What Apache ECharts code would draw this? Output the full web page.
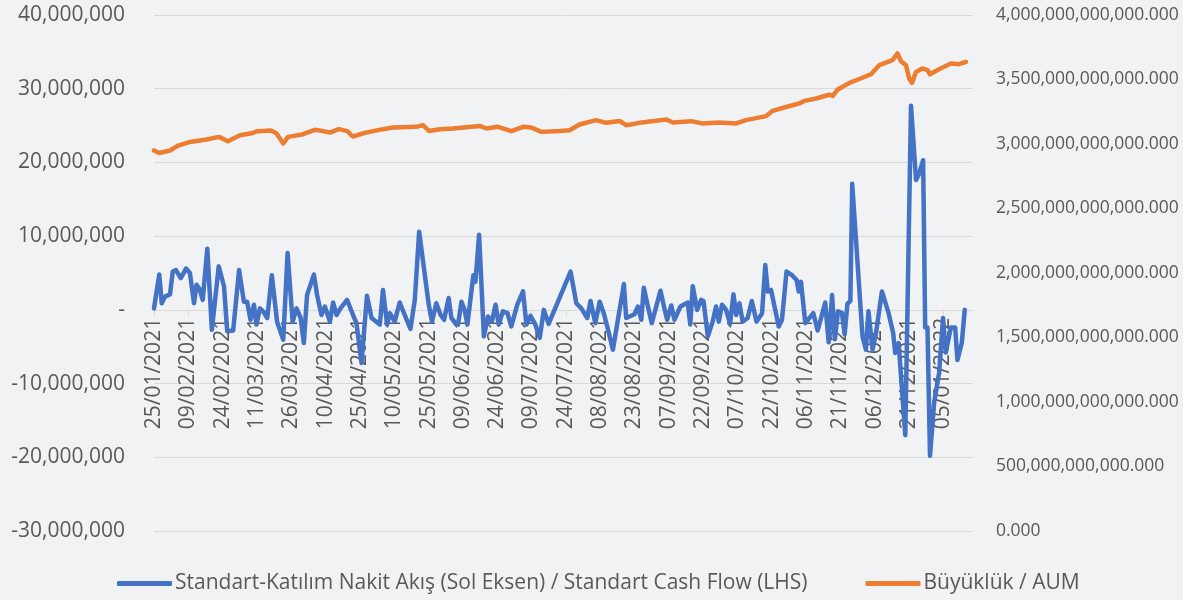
<!DOCTYPE html>
<html>
<head>
<meta charset="utf-8">
<script src="https://cdn.jsdelivr.net/npm/echarts@6/dist/echarts.min.js"></script>
<style>
  html, body { margin: 0; padding: 0; background: #f1f2f4; }
  #chart { width: 1183px; height: 600px; }
</style>
</head>
<body>
<div id="chart"></div>
<script>
// x positions are days since 25/01/2021
const xTickDates = ["25/01/2021", "09/02/2021", "24/02/2021", "11/03/2021", "26/03/2021", "10/04/2021",
  "25/04/2021", "10/05/2021", "25/05/2021", "09/06/2021", "24/06/2021", "09/07/2021", "24/07/2021",
  "08/08/2021", "23/08/2021", "07/09/2021", "22/09/2021", "07/10/2021", "22/10/2021", "06/11/2021",
  "21/11/2021", "06/12/2021", "21/12/2021", "05/01/2022"];

const seriesNames = ["Standart-Katılım Nakit Akış (Sol Eksen) / Standart Cash Flow (LHS)", "Büyüklük / AUM"];

// cash flow, millions
const flowDays = [
  0, 2.3, 3.4, 4.8, 7.0, 8.2, 9.6, 11.7, 14.0, 15.7,
  17.5, 18.6, 19.8, 21.3, 23.3, 25.3, 28.3, 30.6, 32.0, 34.6,
  37.2, 39.3, 40.7, 42.2, 43.7, 44.8, 46.3, 47.7, 49.5, 51.5,
  53.8, 56.5, 58.4, 60.6, 62.3, 64.1, 65.5, 66.9, 69.9, 71.3,
  73.2, 74.7, 76.9, 78.3, 79.8, 81.5, 84.4, 87.0, 88.5, 90.7,
  93.1, 95.1, 98.7, 100.1, 101.9, 103.1, 105.2, 107.4, 109.6, 112.1,
  114.0, 115.9, 120.1, 121.5, 123.4, 125.3, 126.8, 128.8, 130.0, 131.7,
  132.9, 134.4, 135.8, 137.0, 139.6, 140.5, 142.1, 144.2, 146.0, 147.7,
  149.3, 150.7, 152.5, 154.5, 156.2, 158.8, 161.3, 162.8, 164.6, 166.7,
  168.6, 170.4, 172.5, 182.1, 184.6, 186.8, 189.4, 190.8, 192.9, 194.8,
  196.6, 198.1, 200.6, 205.4, 206.4, 210.0, 211.5, 213.0, 214.1, 215.9,
  217.6, 221.4, 223.1, 224.3, 226.1, 227.5, 230.1, 233.3, 234.4, 235.5,
  237.4, 239.2, 240.2, 242.1, 244.2, 245.7, 246.9, 248.3, 250.1, 251.8,
  253.3, 254.5, 255.9, 257.3, 259.5, 261.3, 263.4, 265.8, 267.2, 268.3,
  269.7, 273.1, 274.5, 276.5, 278.9, 280.9, 281.8, 282.8, 284.7, 288.2,
  290.1, 291.6, 293.4, 294.9, 296.4, 297.6, 299.0, 300.7, 301.9, 303.1,
  304.4, 305.2, 309.7, 311.2, 312.3, 314.1, 315.6, 318.2, 321.1, 323.1,
  324.0, 325.5, 328.4, 330.9, 333.1, 334.5, 336.2, 337.1, 338.1, 339.2,
  341.0, 343.2, 344.9, 346.1, 348.3, 350.2, 351.2, 353.1, 354.4
];
const flowValues = [
  0.2, 4.8, 0.9, 1.8, 2.1, 5.2, 5.4, 4.3, 5.6, 5.0,
  0.9, 3.4, 2.9, 1.35, 8.3, -2.7, 5.9, 3.2, -2.9, -2.8,
  5.4, 1.1, 1.1, -1.35, 0.7, -2.0, 0.2, -0.2, -1.1, 4.7,
  -1.6, -4.05, 7.7, -1.6, 0.2, -1.1, -4.5, 2.0, 4.8, 2.0,
  -0.7, 0.45, -1.6, 1.0, -0.7, 0.2, 1.35, -0.7, -1.8, -7.2,
  1.9, -1.1, -2.0, 2.7, -2.0, -0.45, -1.6, 1.0, -0.7, -2.6,
  1.35, 10.6, 0.7, -1.6, 0.9, -0.7, -1.35, 1.6, -1.1, -1.8,
  -2.0, 1.1, 0, -2.0, 4.7, 3.8, 10.2, -3.6, -0.9, -1.6,
  0.7, -2.0, -0.2, -0.45, -2.25, 0.7, 2.5, -2.0, -0.8, -2.0,
  -3.8, 0, -1.9, 5.2, 0.9, 0.2, -1.1, 1.2, -1.8, 1.1,
  -0.45, -2.25, -5.4, 3.5, -1.1, -0.6, 0.45, -1.35, 3.0, 0.45,
  -1.8, 2.6, 0.2, -1.35, 0.6, -1.35, 0.45, 1.0, -2.0, 3.2,
  0, 1.35, 1.2, -3.6, -1.6, 0.45, -1.6, 0.7, 0, -1.9,
  2.1, -0.7, 0.9, -1.6, -1.1, 1.2, -1.6, -0.45, 6.1, 2.5,
  2.7, -2.25, -1.35, 5.2, 4.7, 4.05, 2.5, 3.8, -1.8, -0.45,
  -2.8, -1.1, 1.0, -4.4, 2.0, -4.0, -0.2, -0.4, -3.3, 0.8,
  1.2, 17.1, -3.6, -5.4, -0.2, -5.4, -3.15, 2.5, -0.45, -3.15,
  -5.85, -4.5, -17, 27.7, 17.6, 18.5, 20.3, -2.4, -2.4, -19.8,
  -12.6, -8.5, -1.1, -5.8, -2.4, -2.4, -6.8, -4.5, 0
];

// AUM, trillions
const aumDays = [
  0, 2.3, 7.0, 10.3, 15.7, 23.0, 28.4, 32.3, 37.6, 43.2,
  45.0, 51.1, 53.5, 56.5, 58.6, 65.2, 70.3, 73.9, 76.9, 80.8,
  84.5, 86.9, 92.6, 100.1, 104.5, 114.7, 117.6, 120.2, 124.9, 130.7,
  142.4, 145.3, 150.3, 156.2, 161.3, 164.9, 169.3, 177.3, 181.7, 186.0,
  193.3, 197.7, 203.5, 206.4, 212.2, 223.9, 226.8, 234.8, 239.9, 247.2,
  254.5, 258.8, 267.5, 270.4, 275.5, 282.1, 284.3, 289.4, 295.2, 296.7,
  298.7, 304.0, 308.3, 313.4, 317.0, 322.8, 325.0, 326.5, 328.7, 330.1,
  331.3, 333.1, 335.9, 338.1, 339.2, 342.5, 346.1, 348.3, 351.9, 354.9
];
const aumValues = [
  2.95, 2.93, 2.95, 2.985, 3.016, 3.035, 3.055, 3.022, 3.068, 3.085,
  3.099, 3.105, 3.083, 3.004, 3.055, 3.076, 3.11, 3.10, 3.089, 3.115,
  3.10, 3.058, 3.088, 3.115, 3.128, 3.133, 3.146, 3.101, 3.115, 3.12,
  3.14, 3.12, 3.133, 3.099, 3.133, 3.128, 3.094, 3.10, 3.107, 3.151,
  3.185, 3.164, 3.179, 3.146, 3.164, 3.19, 3.167, 3.177, 3.159, 3.167,
  3.159, 3.185, 3.216, 3.257, 3.283, 3.315, 3.334, 3.353, 3.382, 3.373,
  3.42, 3.474, 3.504, 3.541, 3.611, 3.65, 3.702, 3.642, 3.611, 3.508,
  3.474, 3.559, 3.586, 3.573, 3.541, 3.573, 3.604, 3.624, 3.619, 3.637
];

const DAY = 86400000;
const baseDate = Date.UTC(2021, 0, 25);
const toDay = (s) => {
  const [d, m, y] = s.split("/").map(Number);
  return Math.round((Date.UTC(y, m - 1, d) - baseDate) / DAY);
};
const pad = (n) => String(n).padStart(2, "0");
const fmtDay = (v) => {
  const t = new Date(baseDate + Math.round(v) * DAY);
  return pad(t.getUTCDate()) + "/" + pad(t.getUTCMonth() + 1) + "/" + t.getUTCFullYear();
};
const xTicks = xTickDates.map(toDay);

const textColor = "#595959";
const font = "'Open Sans', sans-serif";

const leftMin = -30000000;
const leftMax = 40000000;
const gridTop = 15;
const gridBottom = 69;
const plotHeight = 600 - gridTop - gridBottom;
// move the date axis up from the grid bottom to where the left axis is zero
const zeroOffset = -plotHeight * (-leftMin) / (leftMax - leftMin);

const chart = echarts.init(document.getElementById("chart"));
chart.setOption({
  animation: false,
  backgroundColor: "#f1f2f4",
  grid: { left: 154, right: 210, top: gridTop, bottom: gridBottom, containLabel: false, outerBoundsMode: "none" },
  legend: {
    data: seriesNames,
    left: 112,
    top: 568,
    icon: "roundRect",
    itemWidth: 55,
    itemHeight: 5,
    itemGap: 58,
    textStyle: { color: textColor, fontSize: 21, fontFamily: font, padding: [0, 0, 0, -2] },
  },
  xAxis: {
    type: "value",
    min: 0,
    max: 358,
    offset: zeroOffset,
    splitLine: { show: false },
    axisLine: { onZero: false, lineStyle: { color: "#d9d9d9", width: 1 } },
    axisTick: { show: true, length: 6, customValues: xTicks, lineStyle: { color: "#d9d9d9" } },
    axisLabel: {
      customValues: xTicks,
      rotate: 90,
      margin: 8,
      color: textColor,
      fontSize: 21,
      fontFamily: font,
      formatter: fmtDay,
    },
  },
  yAxis: [
    {
      type: "value",
      min: leftMin,
      max: leftMax,
      interval: 10000000,
      axisLine: { show: false, onZero: false },
      axisTick: { show: false },
      splitLine: { lineStyle: { color: "#d9d9d9", width: 1 } },
      axisLabel: {
        margin: 29,
        color: textColor,
        fontSize: 21,
        fontFamily: font,
        formatter: (v) => (v === 0 ? "-" : v.toLocaleString("en-US")),
      },
    },
    {
      type: "value",
      min: 0,
      max: 4000000000000,
      interval: 500000000000,
      axisLine: { show: false, onZero: false },
      axisTick: { show: false },
      splitLine: { show: false },
      axisLabel: {
        margin: 23,
        color: textColor,
        fontSize: 17.5,
        fontFamily: font,
        formatter: (v) => v.toLocaleString("en-US", { minimumFractionDigits: 3, maximumFractionDigits: 3 }),
      },
    },
  ],
  series: [
    {
      name: seriesNames[0],
      type: "line",
      yAxisIndex: 0,
      showSymbol: false,
      z: 3,
      color: "#4472c4",
      lineStyle: { width: 4.5, color: "#4472c4", cap: "round", join: "round" },
      data: flowDays.map((d, i) => [d, flowValues[i] * 1e6]),
    },
    {
      name: seriesNames[1],
      type: "line",
      yAxisIndex: 1,
      showSymbol: false,
      z: 2,
      color: "#ed7d31",
      lineStyle: { width: 4.5, color: "#ed7d31", cap: "round", join: "round" },
      data: aumDays.map((d, i) => [d, aumValues[i] * 1e12]),
    },
  ],
});
</script>
</body>
</html>
